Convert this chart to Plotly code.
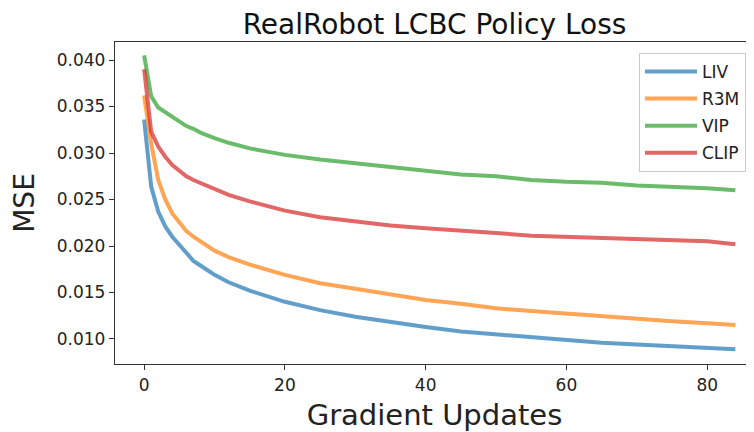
# %%
import plotly.graph_objects as go

# %%
# values at selected gradient-update steps
steps = [0, 1, 2, 3, 4, 5, 6, 7, 8, 10, 12, 15, 20, 25, 30, 35, 40, 45, 50, 55, 60, 65, 70, 75, 80, 84]

liv = [0.0336, 0.0264, 0.0237, 0.0221, 0.0210, 0.0201, 0.0192, 0.0184, 0.0179, 0.0169, 0.0161, 0.0152,
       0.0140, 0.0131, 0.0124, 0.0118, 0.0113, 0.0108, 0.0105, 0.0101, 0.0099, 0.0096, 0.0094, 0.0092,
       0.0090, 0.0089]
r3m = [0.0362, 0.0310, 0.0271, 0.0250, 0.0235, 0.0225, 0.0216, 0.0210, 0.0205, 0.0195, 0.0188, 0.0180,
       0.0169, 0.0160, 0.0154, 0.0148, 0.0142, 0.0138, 0.0133, 0.0130, 0.0127, 0.0124, 0.0121, 0.0119,
       0.0117, 0.0115]
vip = [0.0405, 0.0361, 0.0349, 0.0344, 0.0339, 0.0333, 0.0329, 0.0326, 0.0322, 0.0316, 0.0311, 0.0305,
       0.0298, 0.0293, 0.0289, 0.0284, 0.0280, 0.0277, 0.0275, 0.0271, 0.0269, 0.0268, 0.0265, 0.0264,
       0.0262, 0.0260]
clip = [0.0390, 0.0323, 0.0307, 0.0296, 0.0287, 0.0281, 0.0275, 0.0271, 0.0268, 0.0261, 0.0255, 0.0248,
        0.0238, 0.0231, 0.0226, 0.0222, 0.0219, 0.0217, 0.0214, 0.0211, 0.0210, 0.0208, 0.0207, 0.0206,
        0.0205, 0.0202]

names = ["LIV", "R3M", "VIP", "CLIP"]
colors = ["#1f77b4", "#ff7f0e", "#2ca02c", "#d62728"]

# %%
fig = go.Figure()
for name, ys, col in zip(names, [liv, r3m, vip, clip], colors):
    fig.add_trace(go.Scatter(x=steps, y=ys, mode="lines", name=name, legendgroup=name,
                             line=dict(color=col, width=4), opacity=0.7))

# page body has an 8px margin, so the figure is sized 8px smaller
font = "DejaVu Sans, sans-serif"
fig.update_layout(
    width=746, height=424,
    margin=dict(l=107, r=0, t=34, b=68, autoexpand=False),
    paper_bgcolor="white", plot_bgcolor="white",
    font=dict(family=font, color="#222", size=17),
    title=dict(text="RealRobot LCBC Policy Loss", x=0.5, xref="paper", xanchor="center",
               y=0.962, yanchor="middle", font=dict(size=28, color="#111")),
    legend=dict(x=0.82, y=0.966, xanchor="left", yanchor="top", tracegroupgap=2, itemwidth=52,
                bgcolor="rgba(255,255,255,0.8)", bordercolor="#cccccc", borderwidth=1,
                font=dict(size=17)),
    showlegend=True,
)
fig.update_xaxes(range=[-4.14, 86.65], tickvals=[0, 20, 40, 60, 80], automargin=False,
                 showgrid=False, zeroline=False, showline=True, linecolor="#333", linewidth=1.3,
                 mirror=True, ticks="outside", ticklen=5, tickcolor="#333",
                 title=dict(text="Gradient Updates", font=dict(size=29), standoff=11))
fig.update_yaxes(range=[0.00731, 0.04194], tickvals=[0.010, 0.015, 0.020, 0.025, 0.030, 0.035, 0.040],
                 tickformat=".3f", automargin=False,
                 showgrid=False, zeroline=False, showline=True, linecolor="#333", linewidth=1.3,
                 ticks="outside", ticklen=5, tickcolor="#333",
                 title=dict(text="MSE", font=dict(size=28), standoff=17))

fig.write_html("out.html")
